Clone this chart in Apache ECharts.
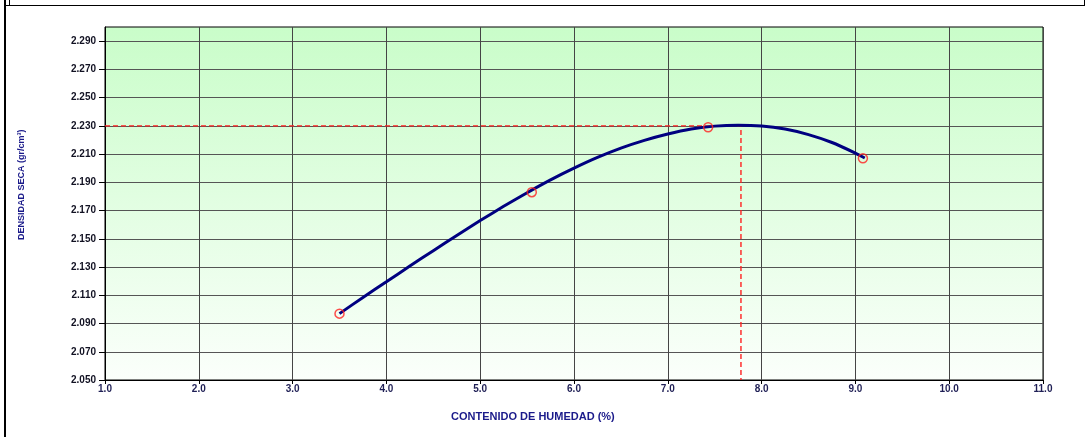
<!DOCTYPE html>
<html>
<head>
<meta charset="utf-8">
<script src="https://cdn.jsdelivr.net/npm/echarts@6/dist/echarts.min.js"></script>
<style>
  html, body { margin: 0; padding: 0; background: #ffffff; }
  #wrap { position: relative; width: 1089px; height: 437px; overflow: hidden; }
  #chart { position: absolute; left: 0; top: 0; width: 1089px; height: 437px; }
  .frameL { position: absolute; left: 4px; top: 0; width: 2px; height: 437px; background: #000; }
  .frameT { position: absolute; left: 4px; top: 5px; width: 1081px; height: 1px; background: #000; }
  .frameS { position: absolute; left: 9px; top: 0; width: 1px; height: 5px; background: #000; }
  .frameR { position: absolute; left: 1084px; top: 0; width: 1px; height: 6px; background: #000; }
</style>
</head>
<body>
<div id="wrap">
  <div id="chart"></div>
  <div class="frameL"></div>
  <div class="frameT"></div>
  <div class="frameS"></div>
  <div class="frameR"></div>
</div>
<script>
// ---- data ----
const pointX = [3.5, 5.55, 7.43, 9.08];
const pointY = [2.097, 2.183, 2.229, 2.207];

// fitted compaction curve, read along its length
const curveX = [3.5, 3.75, 4.0, 4.25, 4.5, 4.75, 5.0, 5.25, 5.5, 5.75, 6.0, 6.25, 6.5, 6.75,
                7.0, 7.25, 7.5, 7.75, 8.0, 8.25, 8.5, 8.75, 9.0, 9.1];
const curveY = [2.0970, 2.1085, 2.1196, 2.1307, 2.1416, 2.1524, 2.1629, 2.1730, 2.1826, 2.1917,
                2.2000, 2.2076, 2.2142, 2.2197, 2.2242, 2.2277, 2.2298, 2.2305, 2.2299, 2.2277,
                2.2238, 2.2182, 2.2107, 2.2072];

const optimumX = 7.78;
const optimumY = 2.230;

const yTickValues = [2.05, 2.07, 2.09, 2.11, 2.13, 2.15, 2.17, 2.19, 2.21, 2.23, 2.25, 2.27, 2.29];
const xTickValues = [1, 2, 3, 4, 5, 6, 7, 8, 9, 10, 11];

const xTitle = 'CONTENIDO DE HUMEDAD (%)';
const yTitle = 'DENSIDAD SECA (gr/cm³)';

// ---- chart ----
const chart = echarts.init(document.getElementById('chart'), null, { renderer: 'canvas' });
const FONT = '"Liberation Sans", Arial, sans-serif';

const curveData = curveX.map((x, i) => [x, curveY[i]]);
const pointData = pointX.map((x, i) => [x, pointY[i]]);
const xMin = xTickValues[0];
const yMin = yTickValues[0];
const guideData = [[xMin, optimumY], [optimumX, optimumY], [optimumX, yMin]];

chart.setOption({
  animation: false,
  grid: {
    left: 105, right: 46, top: 27, bottom: 57,
    show: true,
    borderColor: '#000', borderWidth: 1,
    backgroundColor: new echarts.graphic.LinearGradient(0, 0, 0, 1, [
      { offset: 0, color: '#c9fdc9' },
      { offset: 1, color: '#fbfffb' }
    ])
  },
  xAxis: {
    type: 'value', min: 1, max: 11, interval: 1,
    axisLine: { show: true, lineStyle: { color: '#000', width: 1 } },
    axisTick: { show: true, length: 4, lineStyle: { color: '#000' } },
    axisLabel: {
      customValues: xTickValues,
      formatter: v => v.toFixed(1),
      color: '#1f1f55', fontFamily: FONT, fontWeight: 'bold', fontSize: 10, margin: 4
    },
    splitLine: { show: true, lineStyle: { color: '#454545', width: 1 } }
  },
  yAxis: {
    type: 'value', min: 2.05, max: 2.30, interval: 0.01,
    axisLine: { show: true, lineStyle: { color: '#000', width: 1 } },
    axisTick: { show: true, length: 6, customValues: yTickValues, lineStyle: { color: '#000' } },
    axisLabel: {
      customValues: yTickValues,
      formatter: v => v.toFixed(3),
      color: '#111122', fontFamily: FONT, fontWeight: 'bold', fontSize: 10, margin: 9
    },
    splitLine: { show: true, lineStyle: { color: '#555555', width: 1 } }
  },
  graphic: [
    {
      type: 'text', left: 451, top: 411,
      style: { text: xTitle, fill: '#1a1a8a', font: 'bold 11px ' + FONT }
    },
    {
      type: 'text', x: 17, y: 240, rotation: Math.PI / 2,
      style: { text: yTitle, fill: '#1a1a8a', font: 'bold 9px ' + FONT }
    }
  ],
  series: [
    {
      type: 'line', data: guideData, symbol: 'none', silent: true, z: 3,
      lineStyle: { color: '#ff2020', width: 1.4, type: [5, 3] }
    },
    {
      type: 'line', data: curveData, smooth: 0.2, symbol: 'none', z: 4,
      lineStyle: { color: '#000080', width: 3 }
    },
    {
      type: 'scatter', data: pointData, symbol: 'circle', symbolSize: 9, z: 5,
      itemStyle: { color: 'rgba(255,255,255,0)', borderColor: '#ff2020', borderWidth: 1.5 }
    }
  ]
});
</script>
</body>
</html>
